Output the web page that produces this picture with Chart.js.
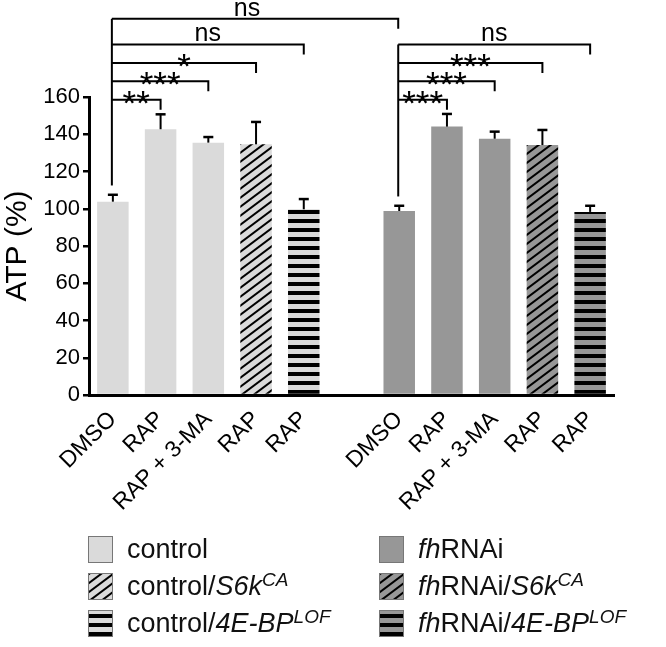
<!DOCTYPE html>
<html>
<head>
<meta charset="utf-8">
<script src="https://cdn.jsdelivr.net/npm/chart.js@4"></script>
<style>
    body { margin: 0; background: #fff; }
    #wrap { position: relative; width: 666px; height: 647px; }
    #legend { position: absolute; left: 0; top: 0; width: 666px; height: 647px; pointer-events: none;
              font-family: "Liberation Sans", Arial, sans-serif; font-size: 27px; color: #111; }
    .item { position: absolute; display: flex; align-items: center; height: 27px; white-space: nowrap; }
    .item canvas { border: 1px solid #777; margin-right: 14px; }
    .item sup { font-size: 19px; line-height: 0; vertical-align: 9px; }
</style>
</head>
<body>
<div id="wrap">
    <canvas id="atpChart" width="666" height="647"></canvas>
    <div id="legend"></div>
</div>
<script>
// Data
const treatments = ['DMSO', 'RAP', 'RAP + 3-MA', 'RAP', 'RAP'];
const categories = [...treatments, '', ...treatments];
const controlATP = [103.8, 142.7, 135.5, 134.6, 99.7];
const controlSEM = [3.7, 8.0, 3.0, 12.0, 5.5];
const fhATP = [98.8, 144.1, 137.6, 134.2, 98.3];
const fhSEM = [2.8, 6.8, 3.8, 8.1, 3.3];
const controlSig = ['**', '***', '*', 'ns'];
const fhSig = ['***', '***', '***', 'ns'];
const dmsoSig = 'ns';
const legendNames = [
    'control', 'control/<i>S6k<sup>CA</sup></i>', 'control/<i>4E-BP<sup>LOF</sup></i>',
    '<i>fh</i>RNAi', '<i>fh</i>RNAi/<i>S6k<sup>CA</sup></i>', '<i>fh</i>RNAi/<i>4E-BP<sup>LOF</sup></i>'
];

const FONT = '"Liberation Sans", Arial, sans-serif';
const LIGHT = '#dadada';
const DARK = '#979797';

// Fill patterns
function makeFill(kind, bg) {
    if (kind === 'solid') return bg;
    const tile = document.createElement('canvas');
    const c = tile.getContext('2d');
    if (kind === 'hatch') {
        const w = 12, h = 9;
        tile.width = w; tile.height = h;
        c.fillStyle = bg;
        c.fillRect(0, 0, w, h);
        c.strokeStyle = '#000';
        c.lineWidth = 2;
        [-w, 0, w].forEach(dx => {
            c.beginPath();
            c.moveTo(dx - w, 2 * h);
            c.lineTo(dx + 2 * w, -h);
            c.stroke();
        });
    } else {
        tile.width = 8; tile.height = 9;
        c.fillStyle = bg;
        c.fillRect(0, 0, 8, 9);
        c.fillStyle = '#000';
        c.fillRect(0, 3, 8, 4);
    }
    return c.createPattern(tile, 'repeat');
}

const kinds = ['solid', 'solid', 'solid', 'hatch', 'stripes'];
const controlFills = kinds.map(k => makeFill(k, LIGHT));
const fhFills = kinds.map(k => makeFill(k, DARK));
const gap = Array(6).fill(null);

// Error bars (upper whisker only)
const errorBars = {
    id: 'errorBars',
    afterDatasetsDraw(chart) {
        const ctx = chart.ctx;
        const y = chart.scales.y;
        ctx.save();
        ctx.strokeStyle = '#000';
        chart.data.datasets.forEach((ds, di) => {
            chart.getDatasetMeta(di).data.forEach((bar, i) => {
                const v = ds.data[i];
                if (v == null) return;
                const top = y.getPixelForValue(v + ds.errors[i]);
                ctx.lineWidth = 2;
                ctx.beginPath();
                ctx.moveTo(bar.x, bar.y);
                ctx.lineTo(bar.x, top);
                ctx.stroke();
                ctx.lineWidth = 2.5;
                ctx.beginPath();
                ctx.moveTo(bar.x - 5, top);
                ctx.lineTo(bar.x + 5, top);
                ctx.stroke();
            });
        });
        ctx.restore();
    }
};

// Significance brackets
function drawLabel(ctx, text, x, lineY) {
    if (text === 'ns') {
        ctx.font = '25px ' + FONT;
        ctx.letterSpacing = '0px';
        ctx.fillText(text, x, lineY - 3);
    } else {
        ctx.font = '35px ' + FONT;
        ctx.letterSpacing = '0px';
        ctx.fillText(text, x, lineY + 15);
    }
}

const brackets = {
    id: 'brackets',
    afterDraw(chart) {
        const ctx = chart.ctx;
        const x = chart.scales.x;
        const y = chart.scales.y;
        ctx.save();
        ctx.strokeStyle = '#000';
        ctx.fillStyle = '#000';
        ctx.lineWidth = 2;
        ctx.textAlign = 'center';
        ctx.textBaseline = 'alphabetic';

        const groups = [
            { start: 0, vals: controlATP, errs: controlSEM, sig: controlSig, topLevel: 202 },
            { start: 6, vals: fhATP, errs: fhSEM, sig: fhSig, topLevel: 188.2 }
        ];
        groups.forEach(g => {
            const x0 = x.getPixelForValue(g.start) - 1;
            ctx.beginPath();
            ctx.moveTo(x0, y.getPixelForValue(g.vals[0] + g.errs[0] + 5));
            ctx.lineTo(x0, y.getPixelForValue(g.topLevel));
            ctx.stroke();
            g.sig.forEach((s, k) => {
                const ly = y.getPixelForValue(158.5 + k * 9.9);
                const x1 = x.getPixelForValue(g.start + k + 1);
                ctx.beginPath();
                ctx.moveTo(x0, ly);
                ctx.lineTo(x1, ly);
                ctx.lineTo(x1, ly + 10);
                ctx.stroke();
                drawLabel(ctx, s, (x0 + x1) / 2, ly);
            });
        });

        // control DMSO vs fhRNAi DMSO
        const xa = x.getPixelForValue(0) - 1;
        const xb = x.getPixelForValue(6) - 1;
        const ty = y.getPixelForValue(202);
        ctx.beginPath();
        ctx.moveTo(xa, ty);
        ctx.lineTo(xb, ty);
        ctx.lineTo(xb, ty + 10);
        ctx.stroke();
        drawLabel(ctx, dmsoSig, (xa + xb) / 2 - 8, ty);
        ctx.restore();
    }
};

const ctx = document.getElementById('atpChart').getContext('2d');
const chart = new Chart(ctx, {
    type: 'bar',
    data: {
        labels: categories,
        datasets: [{
            label: 'control',
            data: [...controlATP, ...gap],
            errors: controlSEM,
            backgroundColor: controlFills
        }, {
            label: 'fhRNAi',
            data: [...gap, ...fhATP],
            errors: [...gap, ...fhSEM],
            backgroundColor: [...gap, ...fhFills]
        }]
    },
    options: {
        responsive: false,
        animation: false,
        layout: { padding: { top: 97, right: 52, left: 0, bottom: 0 } },
        datasets: { bar: { grouped: false, barPercentage: 0.66, categoryPercentage: 1 } },
        plugins: { legend: { display: false }, tooltip: { enabled: false } },
        scales: {
            x: {
                grid: { display: false },
                border: { color: '#000', width: 3 },
                ticks: {
                    color: '#000',
                    font: { family: FONT, size: 23 },
                    maxRotation: 45,
                    minRotation: 45,
                    autoSkip: false,
                    padding: 3
                },
                afterFit(scale) { scale.height = 252; }
            },
            y: {
                min: 0,
                max: 160,
                ticks: { stepSize: 20, color: '#000', font: { family: FONT, size: 22 }, padding: 3 },
                grid: { drawOnChartArea: false, color: '#000', tickLength: 6, lineWidth: 2.5 },
                border: { color: '#000', width: 3 },
                title: { display: true, text: 'ATP (%)', color: '#000', font: { family: FONT, size: 30 }, padding: 0 },
                afterFit(scale) { scale.width = 89; }
            }
        }
    },
    plugins: [errorBars, brackets]
});

// Legend
const legend = document.getElementById('legend');
legendNames.forEach((name, i) => {
    const col = Math.floor(i / 3);
    const row = i % 3;
    const item = document.createElement('div');
    item.className = 'item';
    item.style.left = (col === 0 ? 88 : 379) + 'px';
    item.style.top = (536 + row * 37) + 'px';
    const sw = document.createElement('canvas');
    sw.width = 23; sw.height = 25;
    const sc = sw.getContext('2d');
    sc.fillStyle = makeFill(kinds[row + 2], col === 0 ? LIGHT : DARK);
    sc.fillRect(0, 0, 23, 25);
    item.appendChild(sw);
    const label = document.createElement('span');
    label.innerHTML = name;
    item.appendChild(label);
    legend.appendChild(item);
});
</script>
</body>
</html>
